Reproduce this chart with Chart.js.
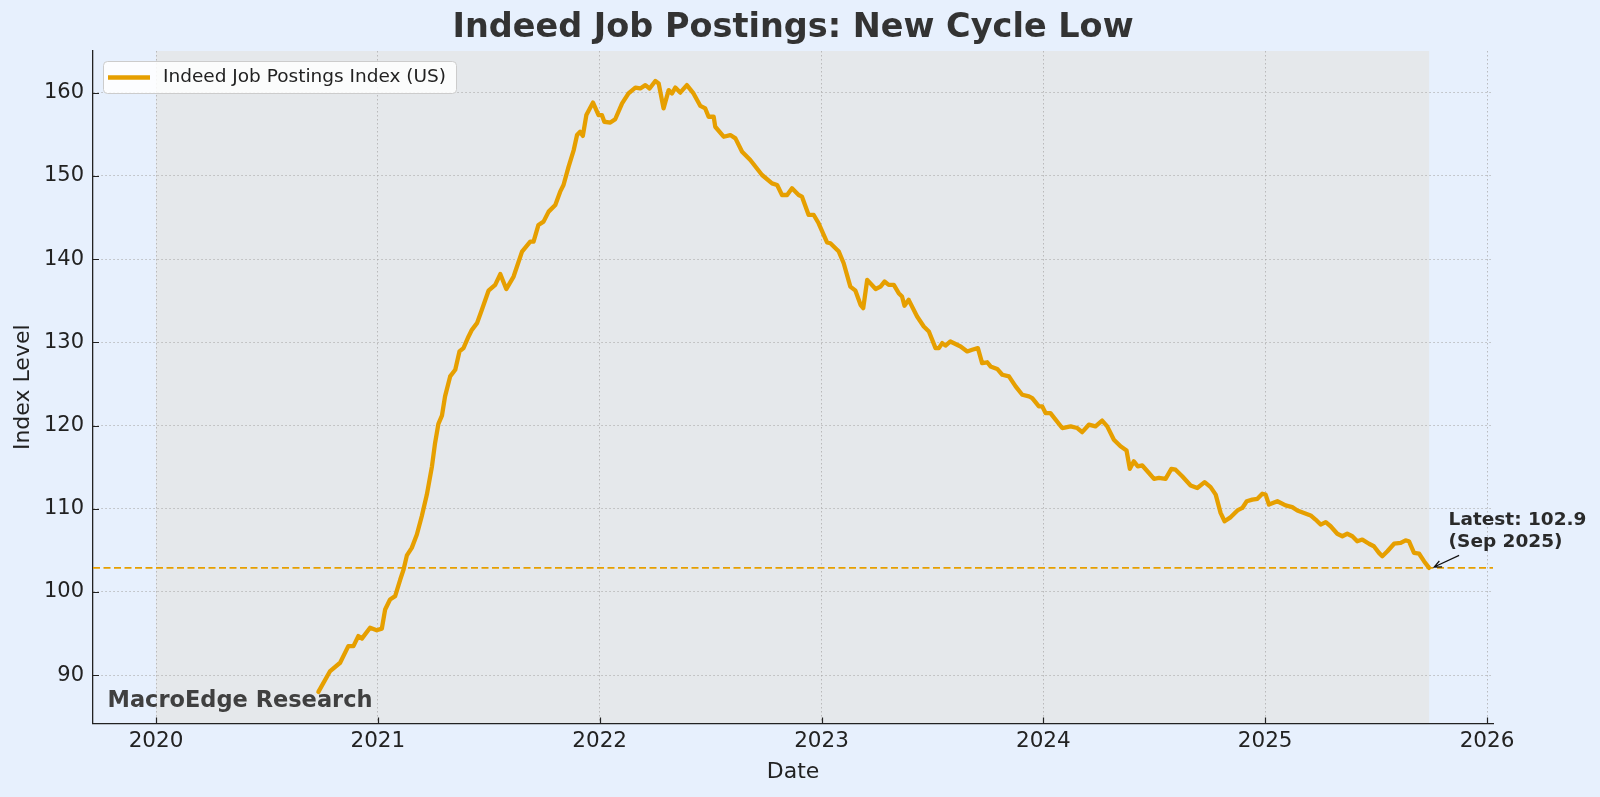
<!DOCTYPE html>
<html>
<head>
<meta charset="utf-8">
<title>Indeed Job Postings: New Cycle Low</title>
<script src="https://cdn.jsdelivr.net/npm/chart.js@4.4.1/dist/chart.umd.min.js"></script>
<style>
  html, body { margin: 0; padding: 0; background: #e7f0fd; }
  canvas { display: block; }
</style>
</head>
<body>
<canvas id="myChart" width="1600" height="797"></canvas>
<script>
// dates are decimal years (2021.5 = start of July 2021)
const dates = [
  2020.732, 2020.785, 2020.830, 2020.867, 2020.890, 2020.912, 2020.928, 2020.965, 2020.995,
  2021.018, 2021.033, 2021.055, 2021.078, 2021.101, 2021.116, 2021.131, 2021.153, 2021.176,
  2021.198, 2021.221, 2021.244, 2021.258, 2021.273, 2021.289, 2021.303, 2021.326, 2021.349,
  2021.368, 2021.386, 2021.409, 2021.424, 2021.447, 2021.469, 2021.499, 2021.529, 2021.552,
  2021.579, 2021.612, 2021.650, 2021.687, 2021.702, 2021.724, 2021.747, 2021.770, 2021.800,
  2021.822, 2021.837, 2021.860, 2021.883, 2021.898, 2021.912, 2021.924, 2021.940, 2021.970,
  2021.995, 2022.010, 2022.021, 2022.048, 2022.070, 2022.101, 2022.130, 2022.161, 2022.183,
  2022.206, 2022.225, 2022.251, 2022.266, 2022.288, 2022.311, 2022.326, 2022.341, 2022.363,
  2022.393, 2022.423, 2022.454, 2022.476, 2022.491, 2022.514, 2022.521, 2022.559, 2022.589,
  2022.612, 2022.642, 2022.679, 2022.732, 2022.777, 2022.800, 2022.822, 2022.845, 2022.867,
  2022.897, 2022.912, 2022.942, 2022.965, 2022.987, 2023.010, 2023.025, 2023.040, 2023.078,
  2023.100, 2023.130, 2023.153, 2023.176, 2023.188, 2023.206, 2023.244, 2023.266, 2023.284,
  2023.303, 2023.326, 2023.348, 2023.363, 2023.374, 2023.393, 2023.431, 2023.461, 2023.484,
  2023.514, 2023.529, 2023.544, 2023.559, 2023.581, 2023.627, 2023.657, 2023.679, 2023.705,
  2023.724, 2023.747, 2023.762, 2023.792, 2023.815, 2023.845, 2023.875, 2023.905, 2023.935,
  2023.950, 2023.980, 2023.995, 2024.010, 2024.032, 2024.085, 2024.123, 2024.153, 2024.175,
  2024.205, 2024.235, 2024.265, 2024.288, 2024.318, 2024.348, 2024.375, 2024.390, 2024.408,
  2024.426, 2024.446, 2024.476, 2024.499, 2024.521, 2024.551, 2024.577, 2024.596, 2024.626,
  2024.664, 2024.694, 2024.727, 2024.754, 2024.777, 2024.799, 2024.817, 2024.845, 2024.875,
  2024.897, 2024.917, 2024.942, 2024.965, 2024.987, 2025.002, 2025.017, 2025.055, 2025.092,
  2025.122, 2025.145, 2025.175, 2025.205, 2025.227, 2025.250, 2025.273, 2025.295, 2025.325,
  2025.348, 2025.370, 2025.393, 2025.415, 2025.438, 2025.468, 2025.490, 2025.513, 2025.528,
  2025.551, 2025.581, 2025.611, 2025.633, 2025.648, 2025.671, 2025.694, 2025.716, 2025.739
];

const indexValues = [
  88.0, 90.5, 91.5, 93.5, 93.5, 94.7, 94.4, 95.7, 95.4,
  95.6, 97.9, 99.1, 99.5, 101.5, 102.7, 104.4, 105.3, 106.9,
  109.1, 111.7, 115.1, 117.9, 120.2, 121.2, 123.5, 125.9, 126.7,
  128.9, 129.3, 130.7, 131.5, 132.3, 133.9, 136.2, 136.9, 138.2,
  136.4, 137.9, 140.9, 142.1, 142.1, 144.1, 144.5, 145.7, 146.5,
  148.1, 148.9, 151.1, 153.1, 154.9, 155.3, 154.8, 157.3, 158.8,
  157.3, 157.3, 156.5, 156.4, 156.8, 158.7, 159.9, 160.6, 160.5,
  160.9, 160.5, 161.4, 161.1, 158.1, 160.3, 159.9, 160.6, 160.0,
  160.9, 159.9, 158.4, 158.1, 157.1, 157.1, 155.9, 154.7, 154.9,
  154.5, 152.9, 151.9, 150.1, 149.1, 148.9, 147.7, 147.7, 148.5,
  147.7, 147.5, 145.3, 145.3, 144.3, 142.9, 142.0, 141.9, 140.9,
  139.5, 136.7, 136.2, 134.5, 134.1, 137.5, 136.4, 136.7, 137.3,
  136.9, 136.9, 135.9, 135.5, 134.4, 135.1, 133.1, 131.9, 131.3,
  129.3, 129.3, 129.9, 129.6, 130.1, 129.5, 128.9, 129.1, 129.3,
  127.5, 127.6, 127.1, 126.8, 126.1, 125.9, 124.7, 123.7, 123.5,
  123.3, 122.3, 122.3, 121.5, 121.5, 119.7, 119.9, 119.7, 119.2,
  120.1, 119.9, 120.6, 119.9, 118.3, 117.5, 117.0, 114.8, 115.7,
  115.1, 115.2, 114.3, 113.6, 113.7, 113.6, 114.8, 114.7, 113.9,
  112.8, 112.5, 113.2, 112.6, 111.7, 109.5, 108.5, 109.0, 109.8,
  110.1, 110.9, 111.1, 111.2, 111.8, 111.7, 110.5, 110.9, 110.4,
  110.2, 109.8, 109.5, 109.2, 108.7, 108.1, 108.4, 107.9, 107.0,
  106.7, 107.0, 106.7, 106.1, 106.3, 105.8, 105.5, 104.7, 104.3,
  104.9, 105.8, 105.9, 106.2, 106.1, 104.7, 104.6, 103.7, 102.9
];

const yearTicks = [2020, 2021, 2022, 2023, 2024, 2025, 2026];
const levelTicks = [90, 100, 110, 120, 130, 140, 150, 160];
const latestValue = 102.9;
const latestText = ["Latest: 102.9", "(Sep 2025)"];
const shadeStart = 2020.0;

const ORANGE = '#E69F00';
const FONT = "'DejaVu Sans', 'Liberation Sans', sans-serif";

const decorations = {
    id: 'decorations',
    beforeDraw(chart) {
        const {ctx, chartArea: a, scales: {x}} = chart;
        ctx.save();
        ctx.fillStyle = '#e7f0fd';
        ctx.fillRect(0, 0, chart.width, chart.height);
        // shaded span over the data period
        const x0 = x.getPixelForValue(shadeStart);
        const x1 = x.getPixelForValue(dates[dates.length - 1]);
        ctx.fillStyle = '#e5e8eb';
        ctx.fillRect(x0, a.top, x1 - x0, a.bottom - a.top);
        ctx.restore();
    },
    beforeDatasetsDraw(chart) {
        const {ctx, chartArea: a, scales: {x, y}} = chart;
        ctx.save();
        // latest level reference line
        const yy = y.getPixelForValue(latestValue);
        ctx.strokeStyle = ORANGE;
        ctx.lineWidth = 1.9;
        ctx.setLineDash([7, 3.5]);
        ctx.beginPath();
        ctx.moveTo(a.left, yy);
        ctx.lineTo(a.right, yy);
        ctx.stroke();
        ctx.setLineDash([]);
        // inward tick marks
        ctx.strokeStyle = '#222';
        ctx.lineWidth = 1.2;
        ctx.beginPath();
        yearTicks.forEach(v => {
            const px = Math.round(x.getPixelForValue(v)) + 0.5;
            ctx.moveTo(px, a.bottom);
            ctx.lineTo(px, a.bottom - 6);
        });
        levelTicks.forEach(v => {
            const py = Math.round(y.getPixelForValue(v)) + 0.5;
            ctx.moveTo(a.left, py);
            ctx.lineTo(a.left + 6, py);
        });
        ctx.stroke();
        ctx.restore();
    },
    afterDatasetsDraw(chart) {
        const {ctx, chartArea: a, scales: {x, y}} = chart;
        ctx.save();

        // title
        ctx.fillStyle = '#333';
        ctx.font = 'bold 33.5px ' + FONT;
        ctx.textAlign = 'center';
        ctx.textBaseline = 'middle';
        ctx.fillText('Indeed Job Postings: New Cycle Low', (a.left + a.right) / 2, 28);

        // axis titles
        ctx.fillStyle = '#222';
        ctx.font = '22px ' + FONT;
        ctx.fillText('Date', (a.left + a.right) / 2, 772);
        ctx.save();
        ctx.translate(23, (a.top + a.bottom) / 2);
        ctx.rotate(-Math.PI / 2);
        ctx.fillText('Index Level', 0, 0);
        ctx.restore();

        // legend
        ctx.fillStyle = 'rgba(255,255,255,0.85)';
        ctx.strokeStyle = '#cccccc';
        ctx.lineWidth = 1;
        ctx.beginPath();
        ctx.roundRect(103.5, 61.5, 353, 32, 4);
        ctx.fill();
        ctx.stroke();
        ctx.strokeStyle = ORANGE;
        ctx.lineWidth = 4.5;
        ctx.beginPath();
        ctx.moveTo(108, 77.5);
        ctx.lineTo(150, 77.5);
        ctx.stroke();
        ctx.fillStyle = '#222';
        ctx.font = '18.5px ' + FONT;
        ctx.textAlign = 'left';
        ctx.textBaseline = 'middle';
        ctx.fillText('Indeed Job Postings Index (US)', 163, 77.5);

        // watermark
        ctx.fillStyle = '#404040';
        ctx.font = 'bold 22.5px ' + FONT;
        ctx.textBaseline = 'alphabetic';
        ctx.fillText('MacroEdge Research', 107.5, 706.5);

        // latest annotation
        const px = x.getPixelForValue(dates[dates.length - 1]);
        const py = y.getPixelForValue(indexValues[indexValues.length - 1]);
        ctx.fillStyle = '#2a2a2a';
        ctx.font = 'bold 18.5px ' + FONT;
        ctx.fillText(latestText[0], px + 19.5, py - 43);
        ctx.fillText(latestText[1], px + 19.5, py - 21);

        const ax0 = px + 30, ay0 = py - 12.5;
        const ax1 = px + 5, ay1 = py - 0.8;
        ctx.strokeStyle = '#111';
        ctx.lineWidth = 1.2;
        ctx.beginPath();
        ctx.moveTo(ax0, ay0);
        ctx.lineTo(ax1, ay1);
        const ang = Math.atan2(ay0 - ay1, ax0 - ax1);
        const hl = 8;
        ctx.moveTo(ax1 + hl * Math.cos(ang + 0.42), ay1 + hl * Math.sin(ang + 0.42));
        ctx.lineTo(ax1, ay1);
        ctx.lineTo(ax1 + hl * Math.cos(ang - 0.42), ay1 + hl * Math.sin(ang - 0.42));
        ctx.stroke();

        ctx.restore();
    }
};

const ctx = document.getElementById('myChart').getContext('2d');

const myChart = new Chart(ctx, {
    type: 'line',
    data: {
        datasets: [{
            label: 'Indeed Job Postings Index (US)',
            data: dates.map((d, i) => ({x: d, y: indexValues[i]})),
            borderColor: ORANGE,
            borderWidth: 4.3,
            pointRadius: 0,
            tension: 0,
            fill: false,
            borderJoinStyle: 'round',
            borderCapStyle: 'round'
        }]
    },
    options: {
        responsive: false,
        animation: false,
        layout: {
            padding: {top: 51, right: 107, bottom: 0, left: 0}
        },
        plugins: {
            legend: {display: false},
            tooltip: {enabled: false},
            title: {display: false}
        },
        scales: {
            x: {
                type: 'linear',
                min: 2019.716,
                max: 2026.027,
                afterBuildTicks: (scale) => {
                    scale.ticks = yearTicks.map(v => ({value: v}));
                },
                afterFit: (scale) => {
                    scale.height = 73.5;
                },
                ticks: {
                    callback: (v) => String(v),
                    color: '#222',
                    font: {family: FONT, size: 21.5},
                    maxRotation: 0,
                    autoSkip: false,
                    padding: 5
                },
                grid: {
                    color: 'rgba(170,170,170,0.75)',
                    lineWidth: 1,
                    drawTicks: false
                },
                border: {
                    display: true,
                    color: '#222',
                    width: 1.3,
                    dash: [1.5, 2.5]
                }
            },
            y: {
                type: 'linear',
                min: 84.2,
                max: 165,
                afterBuildTicks: (scale) => {
                    scale.ticks = levelTicks.map(v => ({value: v}));
                },
                afterFit: (scale) => {
                    scale.width = 93;
                },
                ticks: {
                    color: '#222',
                    font: {family: FONT, size: 21},
                    padding: 9
                },
                grid: {
                    color: 'rgba(170,170,170,0.75)',
                    lineWidth: 1,
                    drawTicks: false
                },
                border: {
                    display: true,
                    color: '#222',
                    width: 1.3,
                    dash: [1.5, 2.5]
                }
            }
        }
    },
    plugins: [decorations]
});
</script>
</body>
</html>
